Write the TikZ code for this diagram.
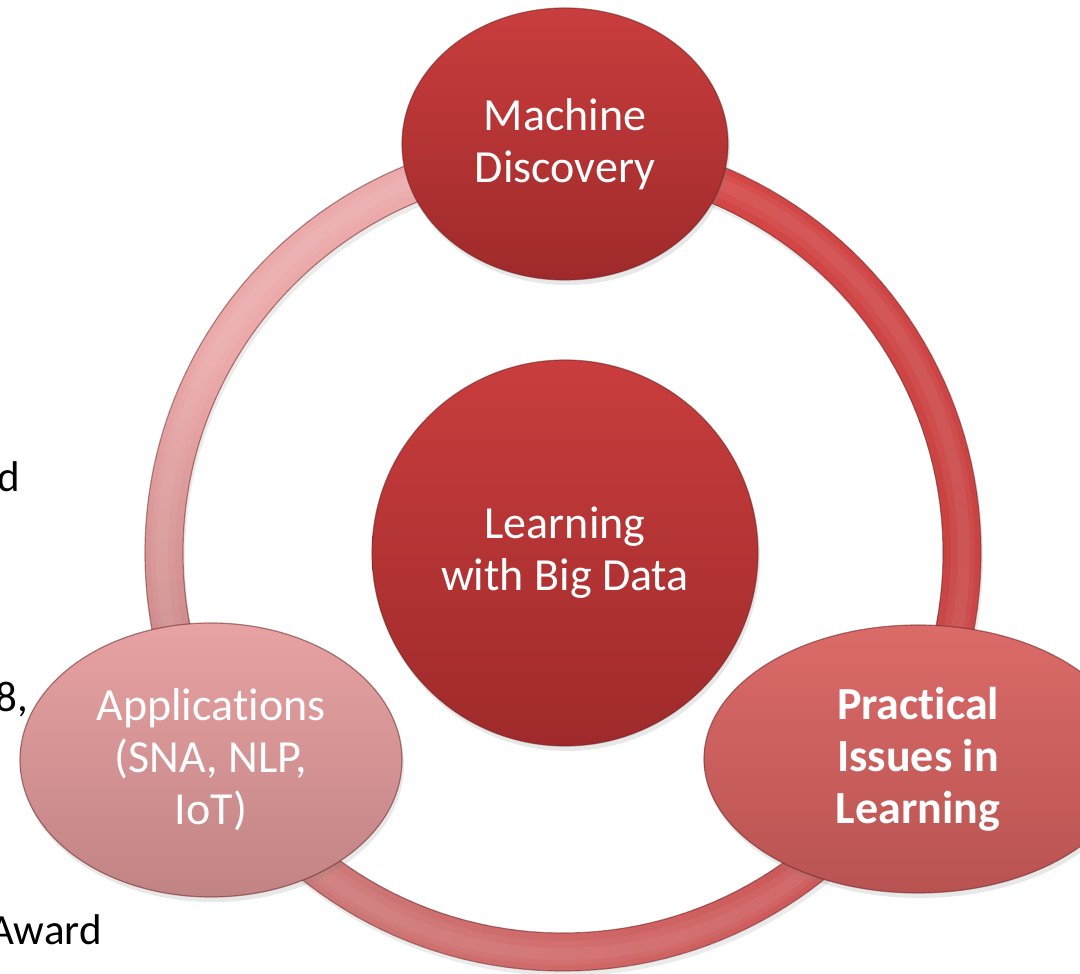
\documentclass[tikz,border=0pt]{standalone}
\usepackage{fontspec}
\setmainfont[Ligatures={NoCommon,NoContextual},RawFeature={-liga;-clig;-calt;-dlig}]{Carlito}
\usetikzlibrary{shapes.geometric,shadows}

\definecolor{ringA}{HTML}{ECA9AA}
\definecolor{ringB}{HTML}{CA8787}
\definecolor{ringC}{HTML}{D06868}
\definecolor{ringD}{HTML}{C94343}
\definecolor{ringE}{HTML}{D74747}
\definecolor{rimdark}{HTML}{6E2424}
\definecolor{redTop}{HTML}{C93D3D}
\definecolor{redBot}{HTML}{9F2A2B}
\definecolor{pinkTop}{HTML}{E7A2A3}
\definecolor{pinkBot}{HTML}{C18384}
\definecolor{coralTop}{HTML}{DB6B69}
\definecolor{coralBot}{HTML}{B85351}

\tikzset{
  bubble/.style={inner sep=0pt, align=center, text=white,
    font=\fontsize{46}{52}\selectfont,
    draw=rimdark, draw opacity=0.55, line width=1.2pt,
    drop shadow={opacity=0.18, shadow xshift=2pt, shadow yshift=-5pt}},
  redfill/.style={top color=redTop, bottom color=redBot},
  pinkfill/.style={top color=pinkTop, bottom color=pinkBot},
  coralfill/.style={top color=coralTop, bottom color=coralBot},
  backtext/.style={inner sep=0pt, text=black, font=\fontsize{43}{50}\selectfont}
}

\begin{document}
\begin{tikzpicture}[x=1pt,y=1pt]
\useasboundingbox (0,0) rectangle (1080,974);
\fill[white] (0,0) rectangle (1080,974);

% text of a column lying behind the cycle, cut off at the left edge
\node[backtext, anchor=base east] (tl1) at (20,482) {d};
\node[backtext, anchor=base east] (tl2) at (28,262) {8,};
\node[backtext, anchor=base east] (tl3) at (102,29) {Award};

% ring centre
\coordinate (rc) at (563,421);

% soft shadow under the ring
\draw[black, opacity=0.08, line width=38pt] ([shift={(2,-5)}]rc) circle[radius=399pt];

% the ring, coloured from pink (upper left) round to red (upper right)
\foreach \a/\b/\ca/\cb in {95/150/ringA/ringA, 150/200/ringA/ringB,
    200/270/ringB/ringC, 270/360/ringC/ringD, 360/446/ringD/ringE}{
  \pgfmathtruncatemacro\n{(\b-\a)/2}
  \foreach \i in {1,...,\n}{
    \pgfmathsetmacro\s{\a+(\i-1)*(\b-\a)/\n}
    \pgfmathsetmacro\e{\a+\i*(\b-\a)/\n+0.6}
    \pgfmathsetmacro\p{100*(\i-0.5)/\n}
    \draw[line width=38pt, color=\cb!\p!\ca]
      ([shift={(rc)}]\s:399pt) arc[start angle=\s, end angle=\e, radius=399pt];
  }
}
% bevel of the ring: soft light middle, dark rims
\draw[white, opacity=0.05, line width=24pt] (rc) circle[radius=400pt];
\draw[white, opacity=0.05, line width=12pt] (rc) circle[radius=401pt];
\draw[rimdark, opacity=0.5, line width=1.2pt] (rc) circle[radius=380pt];
\draw[rimdark, opacity=0.5, line width=1.2pt] (rc) circle[radius=418pt];

% the four topics and the centre
\node[bubble, redfill, ellipse, minimum width=326pt, minimum height=272pt]
  (md) at (565,830) {Machine\\Discovery};
\node[bubble, redfill, circle, minimum size=386pt]
  (lb) at (565,421) {Learning\\with Big Data};
\node[bubble, pinkfill, ellipse, minimum width=382pt, minimum height=274pt]
  (ap) at (211,214) {Applications\\(SNA, NLP,\\IoT)};
\node[bubble, coralfill, ellipse, minimum width=428pt, minimum height=268pt,
  font=\fontsize{46}{52}\selectfont\bfseries]
  (pi) at (918,215) {Practical\\Issues in\\Learning};
\end{tikzpicture}
\end{document}
